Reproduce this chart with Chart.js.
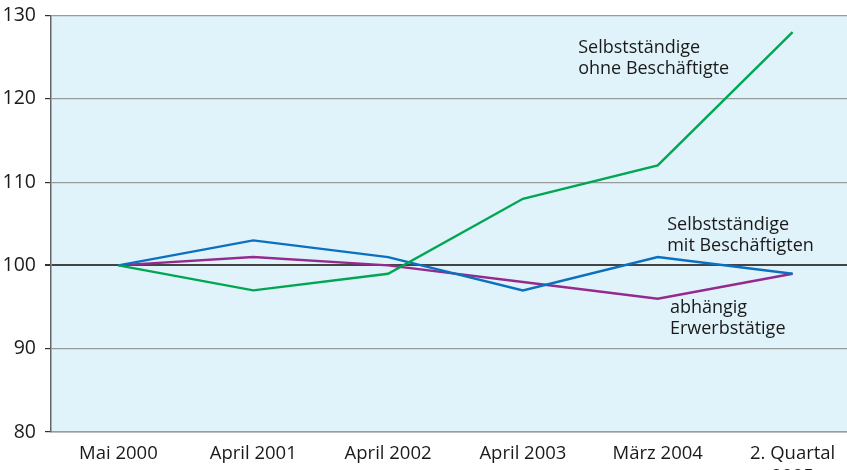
<!DOCTYPE html>
<html>
<head>
<meta charset="utf-8">
<script src="https://cdn.jsdelivr.net/npm/chart.js@4/dist/chart.umd.min.js"></script>
<style>
  html, body { margin: 0; padding: 0; background: #fff; overflow: hidden; }
  #wrap { width: 860px; height: 480px; }
</style>
</head>
<body>
<div id="wrap"><canvas id="lineChart"></canvas></div>
<script>
// categories and series (index, 2000 = 100)
const periods = ["Mai 2000", "April 2001", "April 2002", "April 2003", "März 2004", ["2. Quartal", "2005"]];
const ohneBeschaeftigte = [100, 97, 99, 108, 112, 128];
const mitBeschaeftigten = [100, 103, 101, 97, 101, 99];
const abhaengig = [100, 101, 100, 98, 96, 99];
const yTicks = [80, 90, 100, 110, 120, 130];

// text labels next to the lines: [lines, category position, value]
const labelTexts = [
  [["Selbstständige", "ohne Beschäftigte"], 3.41, 126.1],
  [["Selbstständige", "mit Beschäftigten"], 4.07, 104.9],
  [["abhängig", "Erwerbstätige"], 4.09, 94.9]
];

const FONT = "'Open Sans', 'Noto Sans', sans-serif";

const backgroundPlugin = {
  id: "plotBg",
  beforeDraw(chart) {
    const { ctx, chartArea } = chart;
    ctx.save();
    ctx.fillStyle = "#e0f3fa";
    ctx.fillRect(chartArea.left, chartArea.top, chartArea.right - chartArea.left, chartArea.bottom - chartArea.top);
    ctx.restore();
  }
};

const lineLabels = {
  id: "lineLabels",
  afterDatasetsDraw(chart) {
    const { ctx, scales } = chart;
    ctx.save();
    ctx.font = "18px " + FONT;
    ctx.textBaseline = "middle";
    ctx.textAlign = "left";
    ctx.fillStyle = "#1a1a1a";
    labelTexts.forEach(([lines, pos, val]) => {
      const x = scales.x.getPixelForValue(pos);
      const y = scales.y.getPixelForValue(val);
      lines.forEach((t, i) => ctx.fillText(t, x, y + i * 21));
    });
    ctx.restore();
  }
};

new Chart(document.getElementById("lineChart"), {
  type: "line",
  data: {
    labels: periods,
    datasets: [
      { label: "Selbstständige ohne Beschäftigte", data: ohneBeschaeftigte, borderColor: "#00a651" },
      { label: "Selbstständige mit Beschäftigten", data: mitBeschaeftigten, borderColor: "#0a70bf" },
      { label: "abhängig Erwerbstätige", data: abhaengig, borderColor: "#952a8e" }
    ]
  },
  options: {
    responsive: true,
    maintainAspectRatio: false,
    animation: false,
    elements: {
      line: { borderWidth: 2.4, tension: 0 },
      point: { radius: 0 }
    },
    layout: { padding: { top: 15.5, right: 0, bottom: 0, left: 0 } },
    plugins: {
      legend: { display: false },
      tooltip: { enabled: false }
    },
    scales: {
      x: {
        offset: true,
        grid: { display: false, drawTicks: false },
        border: { color: "#9a9a9a", width: 1.5 },
        ticks: {
          color: "#1a1a1a",
          font: { family: FONT, size: 18.5 },
          padding: 11,
          maxRotation: 0,
          autoSkip: false
        },
        afterFit(scale) { scale.height = 48; }
      },
      y: {
        min: 80,
        max: 130,
        afterBuildTicks(scale) { scale.ticks = yTicks.map(v => ({ value: v })); },
        grid: {
          color: ctx => ctx.tick && ctx.tick.value === 100 ? "#444" : "#9a9a9a",
          lineWidth: ctx => ctx.tick && ctx.tick.value === 100 ? 2 : 1.2,
          tickColor: "#333",
          tickLength: 6
        },
        border: { color: "#666", width: 1.5 },
        ticks: {
          color: "#1a1a1a",
          font: { family: FONT, size: 19.5 },
          padding: 9
        },
        afterFit(scale) {
          scale.width = 51;
          scale.paddingTop = 0;
          scale.paddingBottom = 0;
        }
      }
    }
  },
  plugins: [backgroundPlugin, lineLabels]
});
</script>
</body>
</html>
